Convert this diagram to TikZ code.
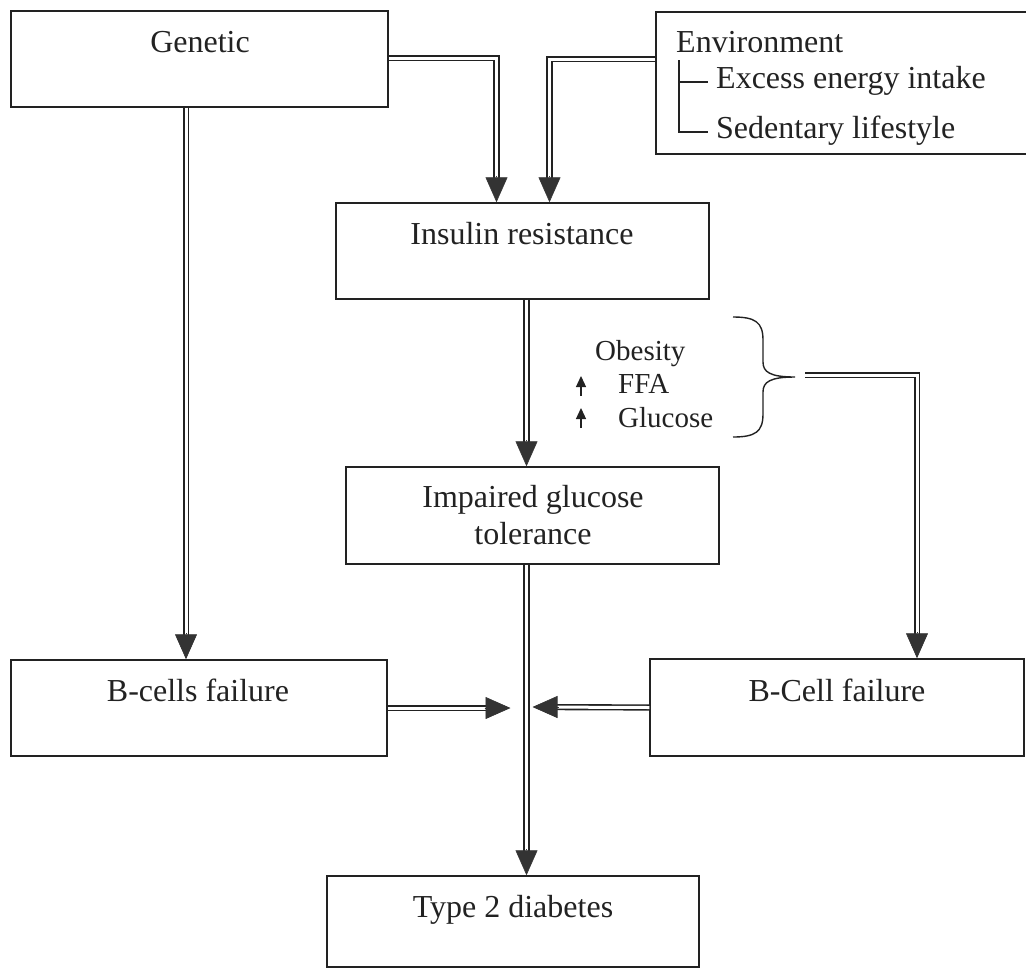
\documentclass[tikz,border=0pt]{standalone}
\usepackage{fontspec}
\setmainfont{Liberation Serif}
\usetikzlibrary{arrows.meta,calc}
\definecolor{ink}{HTML}{222222}
\definecolor{headc}{HTML}{333333}
\begin{document}
\begin{tikzpicture}[x=1pt,y=-1pt,
  box/.style={draw=ink, line width=1.5pt, rectangle, inner sep=0pt},
  lbl/.style={font=\fontsize{32}{37}\selectfont, inner sep=0pt, text=ink},
  small/.style={font=\fontsize{29}{33}\selectfont, inner sep=0pt, text=ink},
  dbl/.style={draw=ink, line width=1.6pt, double=white, double distance=3pt, shorten >=20pt},
  head/.style={draw=headc, fill=headc, line width=0.6pt, -{Triangle[length=25pt,width=22pt]}},
  thin/.style={draw=ink, line width=1.4pt},
  uparrow/.style={draw=ink, line width=1.3pt, -{Triangle[length=11pt,width=10pt]}}]
\useasboundingbox (0,0) rectangle (1026,970);

% boxes
\node[box, minimum width=377pt, minimum height=96pt] (gen) at (199.5,59) {};
\node[box, minimum width=376pt, minimum height=142pt] (env) at (844,83) {};
\node[box, minimum width=373pt, minimum height=96pt] (ins) at (522.5,251) {};
\node[box, minimum width=373pt, minimum height=97pt] (imp) at (532.5,515.5) {};
\node[box, minimum width=376pt, minimum height=96pt] (bcl) at (199,708) {};
\node[box, minimum width=374pt, minimum height=97pt] (bcr) at (837,707.5) {};
\node[box, minimum width=372pt, minimum height=91pt] (t2d) at (513,921.5) {};

% box texts
\node[lbl, anchor=base] (gent) at (200,52) {Genetic};
\node[lbl, anchor=base west] (envt) at (676,52) {Environment};
\node[lbl, anchor=base west] (exct) at (716,88) {Excess energy intake};
\node[lbl, anchor=base west] (sedt) at (716,138) {Sedentary lifestyle};
\node[lbl, anchor=base] (inst) at (522,244) {Insulin resistance};
\node[lbl, align=center] (impt) at (533,515.5) {Impaired glucose\\tolerance};
\node[lbl, anchor=base] (bclt) at (198,701) {B-cells failure};
\node[lbl, anchor=base] (bcrt) at (837,701) {B-Cell failure};
\node[lbl, anchor=base] (t2dt) at (513,917) {Type 2 diabetes};

% environment tree
\draw[thin] (679,60) -- (679,132) -- (708,132);
\draw[thin] (679,82) -- (708,82);

% contributing factors and brace
\node[small, anchor=base west] (obt) at (595,360) {Obesity};
\node[small, anchor=base west] (ffat) at (618,393) {FFA};
\node[small, anchor=base west] (glut) at (618,427) {Glucose};
\draw[uparrow] (581,396) -- (581,376);
\draw[uparrow] (581,428) -- (581,408);
\coordinate (brtip) at (795,377);
\draw[thin] (733,317) .. controls (755,317) and (763,322) .. (763,340) -- (763,362)
  .. controls (763,372) and (770,377) .. (brtip)
  .. controls (770,377) and (763,382) .. (763,392) -- (763,414)
  .. controls (763,432) and (755,437) .. (733,437);

% Genetic -> Insulin resistance
\coordinate (t1) at ([xshift=-26pt]ins.north);
\draw[dbl] ([yshift=-48pt]gen.north east) -| (t1);
\draw[head] ([yshift=26pt]t1) -- (t1);

% Environment -> Insulin resistance
\coordinate (t2) at ([xshift=27pt]ins.north);
\draw[dbl] ([yshift=-48pt]env.north west) -| (t2);
\draw[head] ([yshift=26pt]t2) -- (t2);

% Genetic -> B-cells failure
\coordinate (t3) at ([xshift=-13pt]bcl.north);
\draw[dbl] (t3 |- gen.south) -- (t3);
\draw[head] ([yshift=26pt]t3) -- (t3);

% Insulin resistance -> Impaired glucose tolerance
\coordinate (t4) at ([xshift=-6pt]imp.north);
\draw[dbl] (t4 |- ins.south) -- (t4);
\draw[head] ([yshift=26pt]t4) -- (t4);

% Impaired glucose tolerance -> Type 2 diabetes
\coordinate (t5) at (t4 |- t2d.north);
\draw[dbl] (t4 |- imp.south) -- (t5);
\draw[head] ([yshift=26pt]t5) -- (t5);

% factors -> B-Cell failure
\coordinate (t6) at ([xshift=80pt]bcr.north);
\draw[dbl] ([xshift=10pt,yshift=2pt]brtip) -| (t6);
\draw[head] ([yshift=26pt]t6) -- (t6);

% beta-cell failures -> main pathway
\coordinate (mid) at (t4 |- bcl.east);
\coordinate (t7) at ([xshift=-16pt]mid);
\draw[dbl] (bcl.east) -- (t7);
\draw[head] ([xshift=-26pt]t7) -- (t7);
\coordinate (t8) at ([xshift=6pt,yshift=1pt]mid);
\draw[dbl] (bcr.west) -- (t8);
\draw[head] ([xshift=26pt]t8) -- (t8);
\end{tikzpicture}
\end{document}
